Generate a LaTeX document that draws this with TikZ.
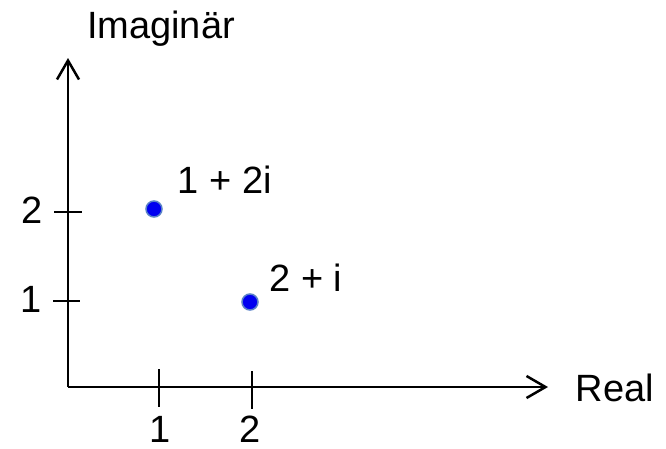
\documentclass[tikz,border=0pt]{standalone}
\usepackage{fontspec}
\setmainfont{Liberation Sans}
\usetikzlibrary{positioning,arrows.meta}
\usepackage{xcolor}
\definecolor{pointblue}{RGB}{0,0,240}
\definecolor{pointrim}{RGB}{90,130,200}

\begin{document}
\begin{tikzpicture}[
  x=1pt,
  y=-1pt,
  font=\fontsize{38}{40}\selectfont,
  axis/.style={
    line width=2.5pt,
    draw=black,
    -{Straight Barb[length=19pt,width=22pt,line width=2.5pt]}
  },
  tick/.style={
    line width=2.5pt,
    draw=black
  },
  lbl/.style={
    inner sep=0pt,
    anchor=base
  },
  pt/.style={
    circle,
    fill=pointblue,
    draw=pointrim,
    line width=1.5pt,
    minimum size=16pt,
    inner sep=0pt
  }
]

\useasboundingbox (0,0) rectangle (666,448);

% axes
\coordinate (origin) at (68,387);
\coordinate (xend) at (548,387);
\coordinate (yend) at (68,58);
\draw[axis] (origin) -- (xend);
\draw[axis] (origin) -- (yend);

\node[lbl] (imlabel) at (161,38) {Imagin\"ar};
\node[lbl] (relabel) at (615,401) {Real};

% ticks on the real axis
\coordinate (xonetop) at (159,369);
\coordinate (xonebot) at (159,407);
\coordinate (xtwotop) at (252,371);
\coordinate (xtwobot) at (252,409);
\draw[tick] (xonetop) -- (xonebot);
\draw[tick] (xtwotop) -- (xtwobot);
\node[lbl] (xone) at (160,442) {1};
\node[lbl] (xtwo) at (250,442) {2};

% ticks on the imaginary axis
\coordinate (yoneleft) at (53,301);
\coordinate (yoneright) at (80,301);
\coordinate (ytwoleft) at (54,212);
\coordinate (ytworight) at (82,212);
\draw[tick] (yoneleft) -- (yoneright);
\draw[tick] (ytwoleft) -- (ytworight);
\node[lbl] (yone) at (31,312) {1};
\node[lbl] (ytwo) at (32,223) {2};

% points
\node[pt] (zone) at (154,209) {};
\node[pt] (ztwo) at (250,302) {};
\node[lbl] (zonelabel) at (225,193) {1 + 2i};
\node[lbl] (ztwolabel) at (306,291) {2 + i};

\end{tikzpicture}
\end{document}
